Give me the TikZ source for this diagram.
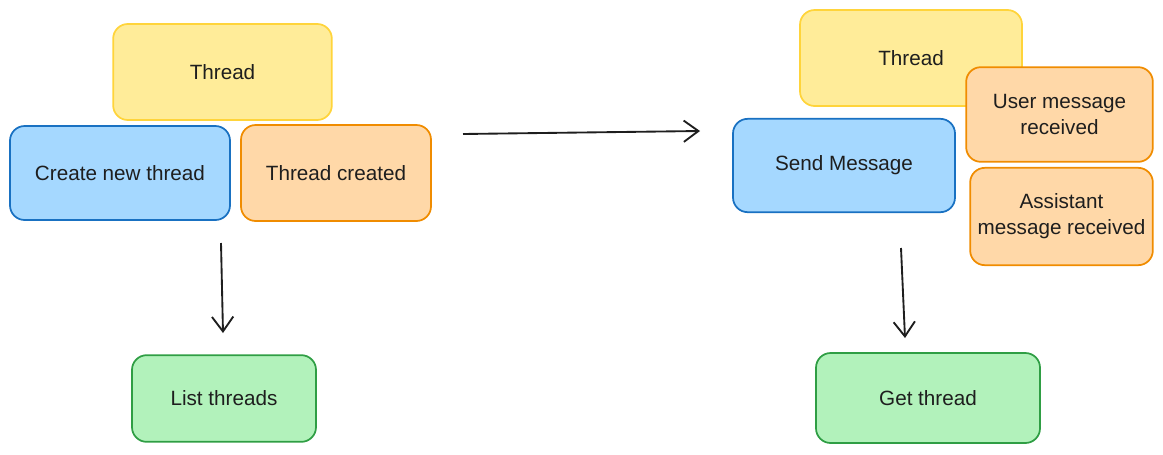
\documentclass[tikz,border=0pt]{standalone}
\usepackage{fontspec}
\setmainfont{Liberation Sans}
\usetikzlibrary{arrows.meta}
\definecolor{yellowfill}{HTML}{FFEC99}
\definecolor{yellowline}{HTML}{FFD43B}
\definecolor{bluefill}{HTML}{A5D8FF}
\definecolor{blueline}{HTML}{1971C2}
\definecolor{orangefill}{HTML}{FFD8A8}
\definecolor{orangeline}{HTML}{F08C00}
\definecolor{greenfill}{HTML}{B2F2BB}
\definecolor{greenline}{HTML}{2F9E44}
\definecolor{inkline}{HTML}{1E1E1E}

\begin{document}
\begin{tikzpicture}[x=0.75pt, y=-0.75pt,
		card/.style={rounded corners=11pt, line width=1.3pt, align=center, text=inkline, font=\fontsize{15.5}{19.5}\selectfont},
		thread/.style={card, draw=yellowline, fill=yellowfill},
		action/.style={card, draw=blueline, fill=bluefill},
		event/.style={card, draw=orangeline, fill=orangefill},
		query/.style={card, draw=greenline, fill=greenfill},
		flow/.style={-{Straight Barb[length=11pt, width=16pt]}, line width=1.4pt, color=inkline}]
			\useasboundingbox (0,0) rectangle (1163,454);
			% left: create a thread
			\node[thread, minimum width=164pt, minimum height=72pt] (threadA) at (222.5,72) {Thread};
			\node[action, minimum width=165pt, minimum height=70.5pt] (createThread) at (120,173) {Create new thread};
			\node[event, minimum width=142.5pt, minimum height=72pt] (threadCreated) at (336,173) {Thread created};
			\node[query, minimum width=138pt, minimum height=65pt] (listThreads) at (224,398.5) {List threads};
			% right: send a message
			\node[thread, minimum width=166.5pt, minimum height=72pt] (threadB) at (911,58) {Thread};
			\node[action, minimum width=166.5pt, minimum height=70pt] (sendMessage) at (844,165.5) {Send Message};
			\node[event, minimum width=140pt, minimum height=71pt] (userReceived) at (1059.5,114.5) {User message\\received};
			\node[event, minimum width=137pt, minimum height=73pt] (assistantReceived) at (1061.5,216.5) {Assistant\\message received};
			\node[query, minimum width=168pt, minimum height=67.5pt] (getThread) at (928,398) {Get thread};
			% arrows between the groups
			\coordinate (leftOut) at (221,243);
			\coordinate (leftIn) at (223,333);
			\coordinate (stepOut) at (463,134);
			\coordinate (stepIn) at (700,131);
			\coordinate (rightOut) at (901,248);
			\coordinate (rightIn) at (905,338);
			\path[flow]
			(leftOut) edge (leftIn)
			(stepOut) edge (stepIn)
			(rightOut) edge (rightIn);
		\end{tikzpicture}
\end{document}
